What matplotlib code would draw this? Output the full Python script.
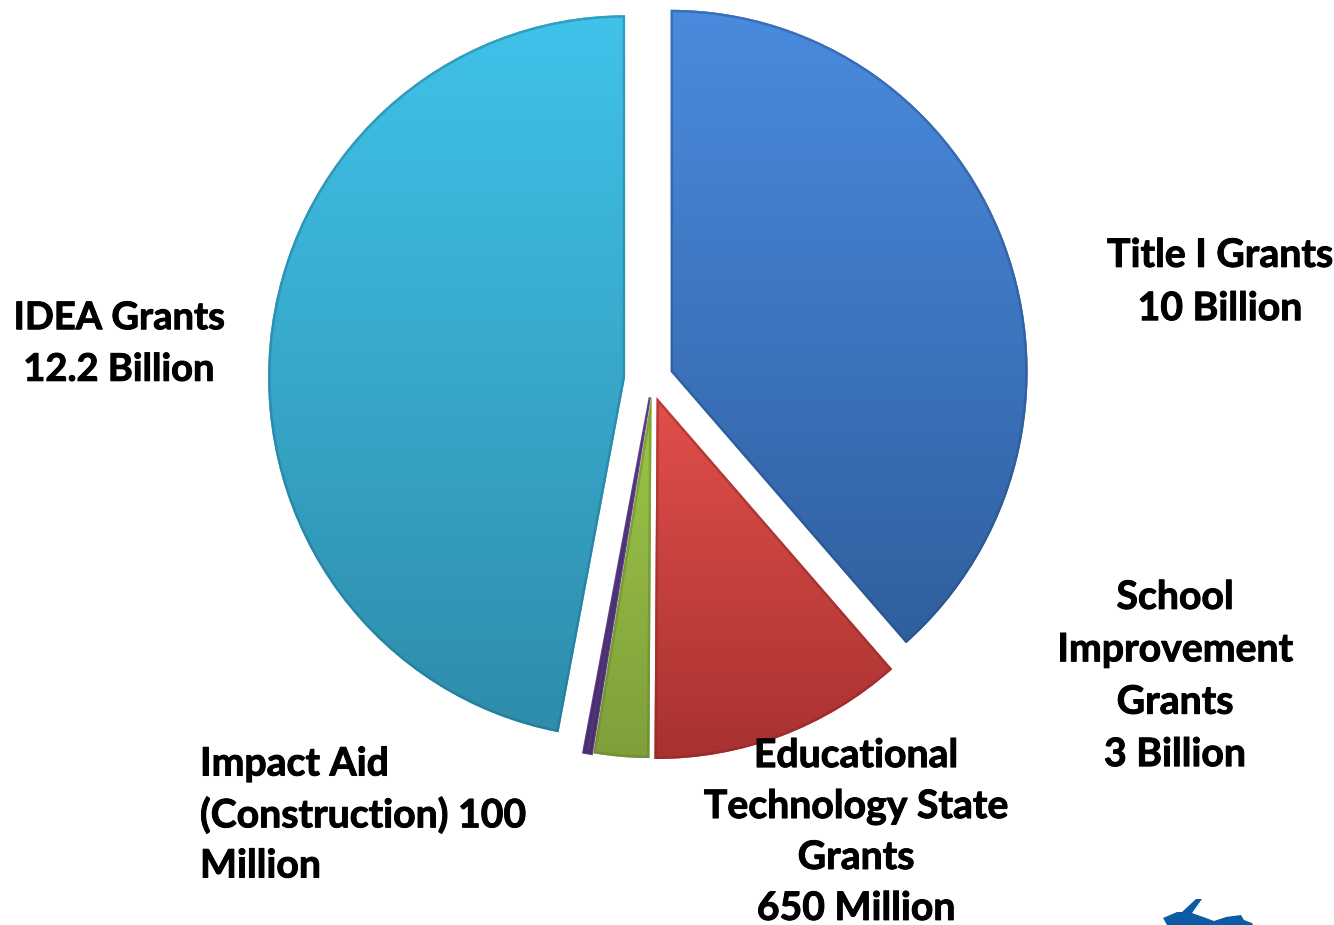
import numpy as np
import matplotlib
matplotlib.use("Agg")
import matplotlib.pyplot as plt
import matplotlib.patheffects as pe
from matplotlib.patches import Polygon, Wedge
from matplotlib.colors import LinearSegmentedColormap

categories = ["Title I Grants", "School Improvement Grants", "Educational Technology State Grants",
              "Impact Aid (Construction)", "IDEA Grants"]
values = [10, 3, 0.65, 0.1, 12.2]
labels = ["Title I Grants\n10 Billion", "School\nImprovement\nGrants\n3 Billion",
          "Educational\nTechnology State\nGrants\n650 Million", "Impact Aid\n(Construction) 100\nMillion",
          "IDEA Grants\n12.2 Billion"]

H = 925
STRETCH = 1.013  # the pie is slightly taller than wide
top_colors = ["#4a8bdf", "#e24f4a", "#9cc748", "#654192", "#40c2ea"]
bottom_colors = ["#305f9e", "#a73230", "#7f9f3b", "#4f3374", "#2e8dab"]
edge_colors = ["#26497c", "#7f2523", "#5f7a2b", "#3c2759", "#1f6a82"]
explodes = [22, 19, 17, 18, 25]
nudges = [(0, 0), (0, 0), (3, 0), (3, 0), (0, 0)]
edge_widths = [0, 0, 0, 1.6, 0]

fig = plt.figure(figsize=(13.34, 9.25), dpi=100)

# pie axes, vertically stretched
pax = fig.add_axes([0, 0, 1, 1])
wedges, _ = pax.pie(values, explode=explodes, radius=357, center=(650, (H - 379.3) / STRETCH),
                    startangle=90, counterclock=False, colors=top_colors,
                    wedgeprops={"linewidth": 0})

for w, c0, c1, ce, (dx, dy), lw in zip(wedges, top_colors, bottom_colors, edge_colors, nudges, edge_widths):
    w.set_center((w.center[0] + dx, w.center[1] + dy))
    w.set_linewidth(lw)
    w.set_edgecolor(c0)
    bb = w.get_path().get_extents(w.get_patch_transform())
    cmap = LinearSegmentedColormap.from_list("g", [c0, c1])
    im = pax.imshow(np.linspace(0, 1, 256)[:, None], cmap=cmap, aspect="auto",
                    extent=(bb.x0, bb.x1, bb.y0, bb.y1), origin="upper", zorder=2)
    im.set_clip_path(w)
    rim = Wedge(w.center, w.r, w.theta1, w.theta2, fc="none", ec=ce, lw=3.5, alpha=0.4, zorder=3)
    pax.add_patch(rim)
    rim.set_clip_path(w)

pax.set_xlim(0, 1334)
pax.set_ylim(0, H / STRETCH)
pax.set_aspect("auto")
pax.axis("off")

# overlay in pixel units for text and logo
ax = fig.add_axes([0, 0, 1, 1], facecolor="none")
ax.set_xlim(0, 1334)
ax.set_ylim(0, H)
ax.axis("off")

text_style = dict(family="Lato", fontweight="bold", color="black", zorder=5,
                  path_effects=[pe.withStroke(linewidth=0.7, foreground="black")])
label_layout = [(1220, 282, "center", 1.63, 28.2), (1175, 676, "center", 1.60, 28.2),
                (856, 832, "center", 1.55, 28.2), (200, 815, "left", 1.52, 28.2),
                (119, 344, "center", 1.63, 27.4)]
for text, (x, y, ha, ls, fs) in zip(labels, label_layout):
    ax.text(x, H - y, text, ha=ha, va="center", multialignment=ha, linespacing=ls, fontsize=fs, **text_style)

logo = [(1163, 918), (1177, 912), (1182, 912), (1196, 899), (1202, 899), (1192, 913), (1206, 918),
        (1214, 921), (1226, 917), (1241, 915), (1244, 920), (1252, 923), (1253, 925), (1167, 925)]
ax.add_patch(Polygon([(x, H - y) for x, y in logo], fc="#0b5ba5", ec="none", zorder=4))

fig.savefig("out.png", dpi=100, facecolor="white")
